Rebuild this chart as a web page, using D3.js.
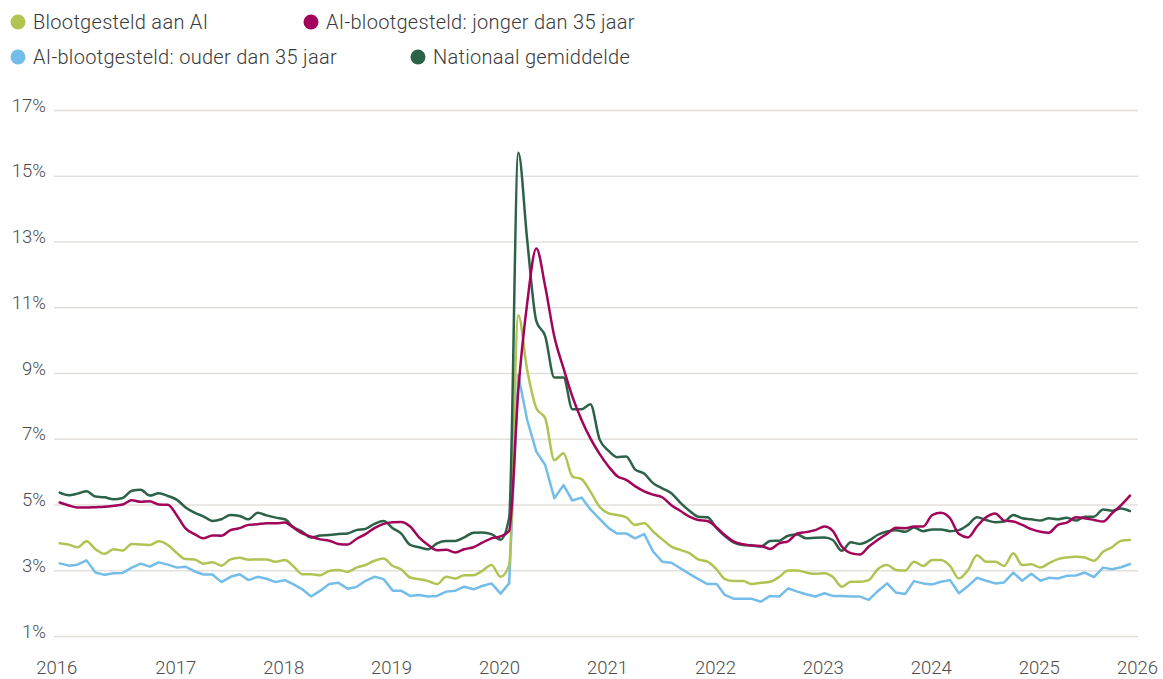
<!DOCTYPE html>
<html>
<head>
<meta charset="utf-8">
<script src="https://cdn.jsdelivr.net/npm/d3@7"></script>
<style>
  html, body { margin: 0; padding: 0; background: #fff; }
  svg { display: block; font-family: Roboto, "Noto Sans", sans-serif; }
</style>
</head>
<body>
<svg id="chart" width="1163" height="679"></svg>
<script>
// ---------- DATA (monthly, Jan 2016 – Dec 2025, unemployment %) ----------
const startMonth = "2016-01";
const seriesNames = ["Blootgesteld aan AI", "AI-blootgesteld: jonger dan 35 jaar", "AI-blootgesteld: ouder dan 35 jaar", "Nationaal gemiddelde"];
const seriesColors = ["#afc453", "#a1045a", "#75bde9", "#2c6248"];

const blootgesteld = [
  3.82,3.78,3.70,3.88,3.64,3.50,3.64,3.60,3.80,3.78,3.77,3.88,
  3.77,3.52,3.34,3.33,3.20,3.24,3.14,3.33,3.38,3.32,3.33,3.33,
  3.26,3.31,3.13,2.88,2.88,2.85,2.98,3.01,2.95,3.08,3.16,3.29,
  3.36,3.13,3.03,2.78,2.73,2.67,2.58,2.80,2.75,2.85,2.85,2.98,
  3.16,2.80,3.15,10.76,9.09,7.93,7.62,6.35,6.56,5.85,5.77,5.39,
  4.93,4.73,4.68,4.61,4.38,4.43,4.18,3.94,3.72,3.62,3.52,3.33,
  3.26,3.03,2.73,2.67,2.67,2.58,2.62,2.65,2.80,2.99,2.99,2.93,
  2.89,2.91,2.80,2.50,2.65,2.65,2.70,3.04,3.16,3.01,2.99,3.26,
  3.13,3.31,3.31,3.13,2.75,3.01,3.46,3.26,3.26,3.13,3.52,3.16,
  3.18,3.08,3.21,3.34,3.39,3.41,3.39,3.29,3.56,3.70,3.90,3.92
];
const jonger35 = [
  5.06,4.97,4.91,4.91,4.92,4.93,4.96,5.00,5.13,5.08,5.10,5.00,
  4.99,4.66,4.28,4.10,3.97,4.06,4.05,4.22,4.28,4.38,4.40,4.43,
  4.43,4.45,4.30,4.12,4.02,3.94,3.90,3.80,3.78,3.95,4.10,4.28,
  4.41,4.46,4.47,4.33,4.00,3.77,3.61,3.62,3.54,3.64,3.70,3.84,
  3.97,4.03,4.20,8.48,11.12,12.79,11.63,10.10,9.14,8.28,7.57,7.01,
  6.54,6.15,5.87,5.75,5.56,5.40,5.30,5.22,4.98,4.81,4.63,4.53,
  4.50,4.30,4.07,3.87,3.79,3.75,3.74,3.65,3.82,3.88,4.12,4.16,
  4.22,4.33,4.20,3.72,3.52,3.48,3.72,3.93,4.11,4.29,4.28,4.33,
  4.33,4.68,4.75,4.58,4.10,4.00,4.33,4.61,4.73,4.51,4.48,4.38,
  4.25,4.17,4.14,4.38,4.45,4.61,4.58,4.53,4.48,4.73,4.98,5.27
];
const ouder35 = [
  3.21,3.14,3.17,3.30,2.93,2.86,2.91,2.92,3.08,3.20,3.11,3.24,
  3.17,3.08,3.11,2.97,2.87,2.87,2.64,2.80,2.88,2.70,2.80,2.74,
  2.64,2.70,2.58,2.42,2.20,2.38,2.58,2.62,2.44,2.49,2.68,2.80,
  2.73,2.38,2.38,2.22,2.25,2.20,2.22,2.35,2.38,2.50,2.42,2.52,
  2.60,2.29,2.60,8.94,7.57,6.61,6.20,5.19,5.59,5.12,5.21,4.85,
  4.56,4.28,4.12,4.12,3.97,4.10,3.57,3.26,3.23,3.06,2.89,2.73,
  2.58,2.58,2.25,2.13,2.13,2.13,2.04,2.22,2.20,2.45,2.35,2.27,
  2.20,2.30,2.22,2.22,2.20,2.20,2.10,2.37,2.60,2.32,2.28,2.67,
  2.60,2.57,2.65,2.70,2.30,2.52,2.77,2.68,2.60,2.63,2.93,2.68,
  2.89,2.68,2.77,2.75,2.83,2.84,2.93,2.79,3.08,3.03,3.09,3.19
];
const nationaal = [
  5.36,5.28,5.33,5.40,5.24,5.22,5.16,5.20,5.42,5.45,5.27,5.34,
  5.26,5.14,4.92,4.75,4.64,4.50,4.55,4.68,4.65,4.55,4.75,4.67,
  4.60,4.55,4.32,4.17,4.00,4.06,4.07,4.10,4.12,4.22,4.26,4.41,
  4.50,4.28,4.12,3.77,3.70,3.64,3.82,3.89,3.89,4.00,4.14,4.15,
  4.10,3.93,4.60,15.70,13.05,10.58,10.12,8.86,8.86,7.90,7.90,8.05,
  6.98,6.63,6.44,6.46,6.07,5.94,5.65,5.49,5.34,5.06,4.81,4.63,
  4.61,4.28,4.04,3.84,3.77,3.75,3.72,3.89,3.90,4.05,4.09,3.97,
  3.99,4.00,3.92,3.59,3.85,3.80,3.90,4.08,4.18,4.22,4.17,4.30,
  4.19,4.24,4.24,4.19,4.22,4.38,4.61,4.53,4.46,4.48,4.68,4.58,
  4.55,4.51,4.58,4.55,4.60,4.51,4.63,4.63,4.85,4.81,4.88,4.80
];
const yTickValues = [1, 3, 5, 7, 9, 11, 13, 15, 17];
const yearLabels = ["2016","2017","2018","2019","2020","2021","2022","2023","2024","2025","2026"];

// ---------- CHART ----------
const W = 1163, H = 679;
const svg = d3.select("#chart");
const parseMonth = d3.timeParse("%Y-%m");
const t0 = parseMonth(startMonth);
const months = d3.range(nationaal.length).map(i => d3.timeMonth.offset(t0, i));

const x = d3.scaleTime().domain([months[0], months[months.length - 1]]).range([59.7, 1130]);
const y = d3.scaleLinear().domain([1, 17]).range([636, 110]);

// Gridlines + y labels
const yAxis = d3.axisLeft(y).tickValues(yTickValues).tickSize(0).tickFormat(d => d + "%");
const gy = svg.append("g").attr("transform", "translate(54,0)").call(yAxis);
gy.select(".domain").remove();
gy.selectAll(".tick line")
  .attr("x1", 0).attr("x2", 1138 - 54)
  .attr("stroke", "#e3dfdb").attr("stroke-width", 1.5);
gy.selectAll(".tick text")
  .attr("x", -8).attr("dy", null).attr("y", 1)
  .attr("text-anchor", "end")
  .attr("fill", "#4d4d4d").attr("font-size", 18.5).attr("font-weight", 300)
  .attr("font-family", "Roboto, sans-serif");

// X labels
const yearDates = yearLabels.map(s => d3.timeParse("%Y")(s));
const xAxis = d3.axisBottom(x).tickValues(yearDates).tickSize(0).tickFormat(d3.timeFormat("%Y"));
const gx = svg.append("g").attr("transform", "translate(0,661)").call(xAxis);
gx.select(".domain").remove();
gx.selectAll(".tick text")
  .attr("fill", "#4d4d4d").attr("font-size", 18.5).attr("font-weight", 300)
  .attr("font-family", "Roboto, sans-serif").attr("dy", "0.71em").attr("y", 0);
gx.selectAll(".tick").each(function(d, i) {
  const g = d3.select(this);
  const base = x(d);
  const txt = g.select("text");
  const half = txt.node().getComputedTextLength() / 2;
  let cx = i === 0 ? base - 3 : base + 8;
  cx = Math.min(cx, W - 5 - half);
  g.attr("transform", `translate(${cx},0)`);
});

// Lines
const seriesData = [ouder35, blootgesteld, nationaal, jonger35];
const seriesIdx = [2, 0, 3, 1];
seriesData.forEach((vals, k) => {
  const idx = seriesIdx[k];
  const line = d3.line()
    .x((d, i) => x(months[i]))
    .y(d => y(d))
    .curve(idx === 2 ? d3.curveLinear : d3.curveMonotoneX);
  svg.append("path")
    .datum(vals)
    .attr("fill", "none")
    .attr("stroke", seriesColors[idx])
    .attr("stroke-width", 2.5)
    .attr("stroke-linejoin", "round")
    .attr("stroke-linecap", "round")
    .attr("d", line);
});

// Legend
const legendPos = [[18, 22], [311, 22], [18, 57], [418, 57]];
const lg = svg.append("g");
seriesNames.forEach((name, i) => {
  const [lx, ly] = legendPos[i];
  lg.append("circle").attr("cx", lx).attr("cy", ly).attr("r", 7.5).attr("fill", seriesColors[i]);
  lg.append("text").attr("x", lx + 15).attr("y", ly).attr("dy", "0.35em")
    .attr("font-size", 20).attr("font-weight", 300).attr("fill", "#3a3a3a")
    .attr("letter-spacing", 0.3)
    .attr("font-family", "Roboto, sans-serif")
    .text(name);
});
</script>
</body>
</html>
